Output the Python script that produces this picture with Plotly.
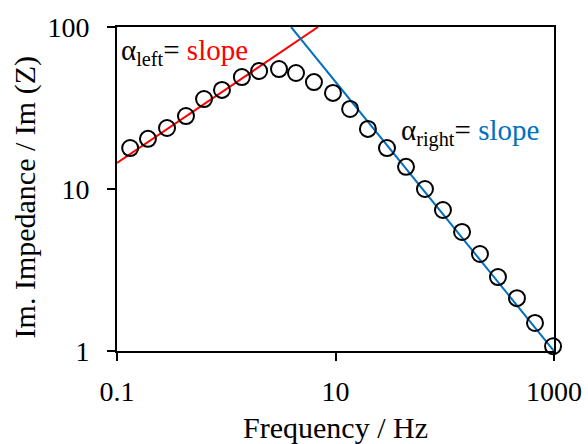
import plotly.graph_objects as go

freq = [0.132, 0.192, 0.287, 0.428, 0.626, 0.914, 1.39, 2.00, 3.04, 4.35, 6.35, 9.48,
        13.6, 19.8, 29.6, 44.2, 65.9, 96.3, 144, 210, 307, 458, 670, 980]
imz = [17.9, 20.4, 23.8, 28.2, 35.9, 40.9, 49.1, 53.5, 55.0, 52.0, 45.7, 39.2,
       31.2, 23.5, 17.9, 13.7, 10.0, 7.42, 5.43, 3.97, 2.86, 2.12, 1.49, 1.07]

left_fit_x = [0.1, 6.92]
left_fit_y = [14.5, 100]
right_fit_x = [3.92, 1000]
right_fit_y = [100, 1]

x_ticks = [0.1, 10, 1000]
x_ticklabels = ["0.1", "10", "1000"]
y_ticks = [1, 10, 100]
y_ticklabels = ["1", "10", "100"]

x_title = "Frequency / Hz"
y_title = "Im. Impedance / Im (Z)"

FONT = "Liberation Serif"
RED = "#FF0000"
BLUE = "#0070C0"

fig = go.Figure()
fig.add_trace(go.Scatter(x=left_fit_x, y=left_fit_y, mode="lines",
                         line=dict(color=RED, width=2), showlegend=False))
fig.add_trace(go.Scatter(x=right_fit_x, y=right_fit_y, mode="lines",
                         line=dict(color=BLUE, width=2), showlegend=False))
fig.add_trace(go.Scatter(x=freq, y=imz, mode="markers", cliponaxis=False,
                         marker=dict(symbol="circle-open", size=16,
                                     color="black", line=dict(color="black", width=2)),
                         showlegend=False))

fig.add_annotation(xref="paper", yref="paper", x=0.005, y=0.923,
                   xanchor="left", yanchor="middle", showarrow=False,
                   text=f"α<sub>left</sub>= <span style='color:{RED}'>slope</span>",
                   font=dict(family=FONT, size=29, color="black"))
fig.add_annotation(xref="paper", yref="paper", x=0.645, y=0.673,
                   xanchor="left", yanchor="middle", showarrow=False,
                   text=f"α<sub>right</sub>= <span style='color:{BLUE}'>slope</span>",
                   font=dict(family=FONT, size=29, color="black"))
# y-axis title
fig.add_annotation(xref="paper", yref="paper", x=-0.2105, y=0.474,
                   xanchor="center", yanchor="middle", showarrow=False, textangle=-90,
                   text=y_title, font=dict(family=FONT, size=30, color="black"))

axis_common = dict(showline=True, linecolor="black", linewidth=2, mirror=True,
                   ticks="outside", ticklen=8, tickwidth=2, tickcolor="black",
                   showgrid=False, zeroline=False, automargin=False,
                   tickfont=dict(family=FONT, size=28, color="black"))

fig.update_xaxes(type="log", range=[-1, 3], tickvals=x_ticks, ticktext=x_ticklabels,
                 title=dict(text=x_title, font=dict(family=FONT, size=30, color="black"),
                            standoff=12),
                 ticklabelstandoff=6, **axis_common)
fig.update_yaxes(type="log", range=[0, 2], tickvals=y_ticks, ticktext=y_ticklabels,
                 ticklabelstandoff=12, **axis_common)

fig.update_layout(width=588, height=444, margin=dict(l=117, r=34, t=27, b=93),
                  plot_bgcolor="white", paper_bgcolor="white",
                  font=dict(family=FONT, size=28, color="black"))

fig.write_html("out.html")
